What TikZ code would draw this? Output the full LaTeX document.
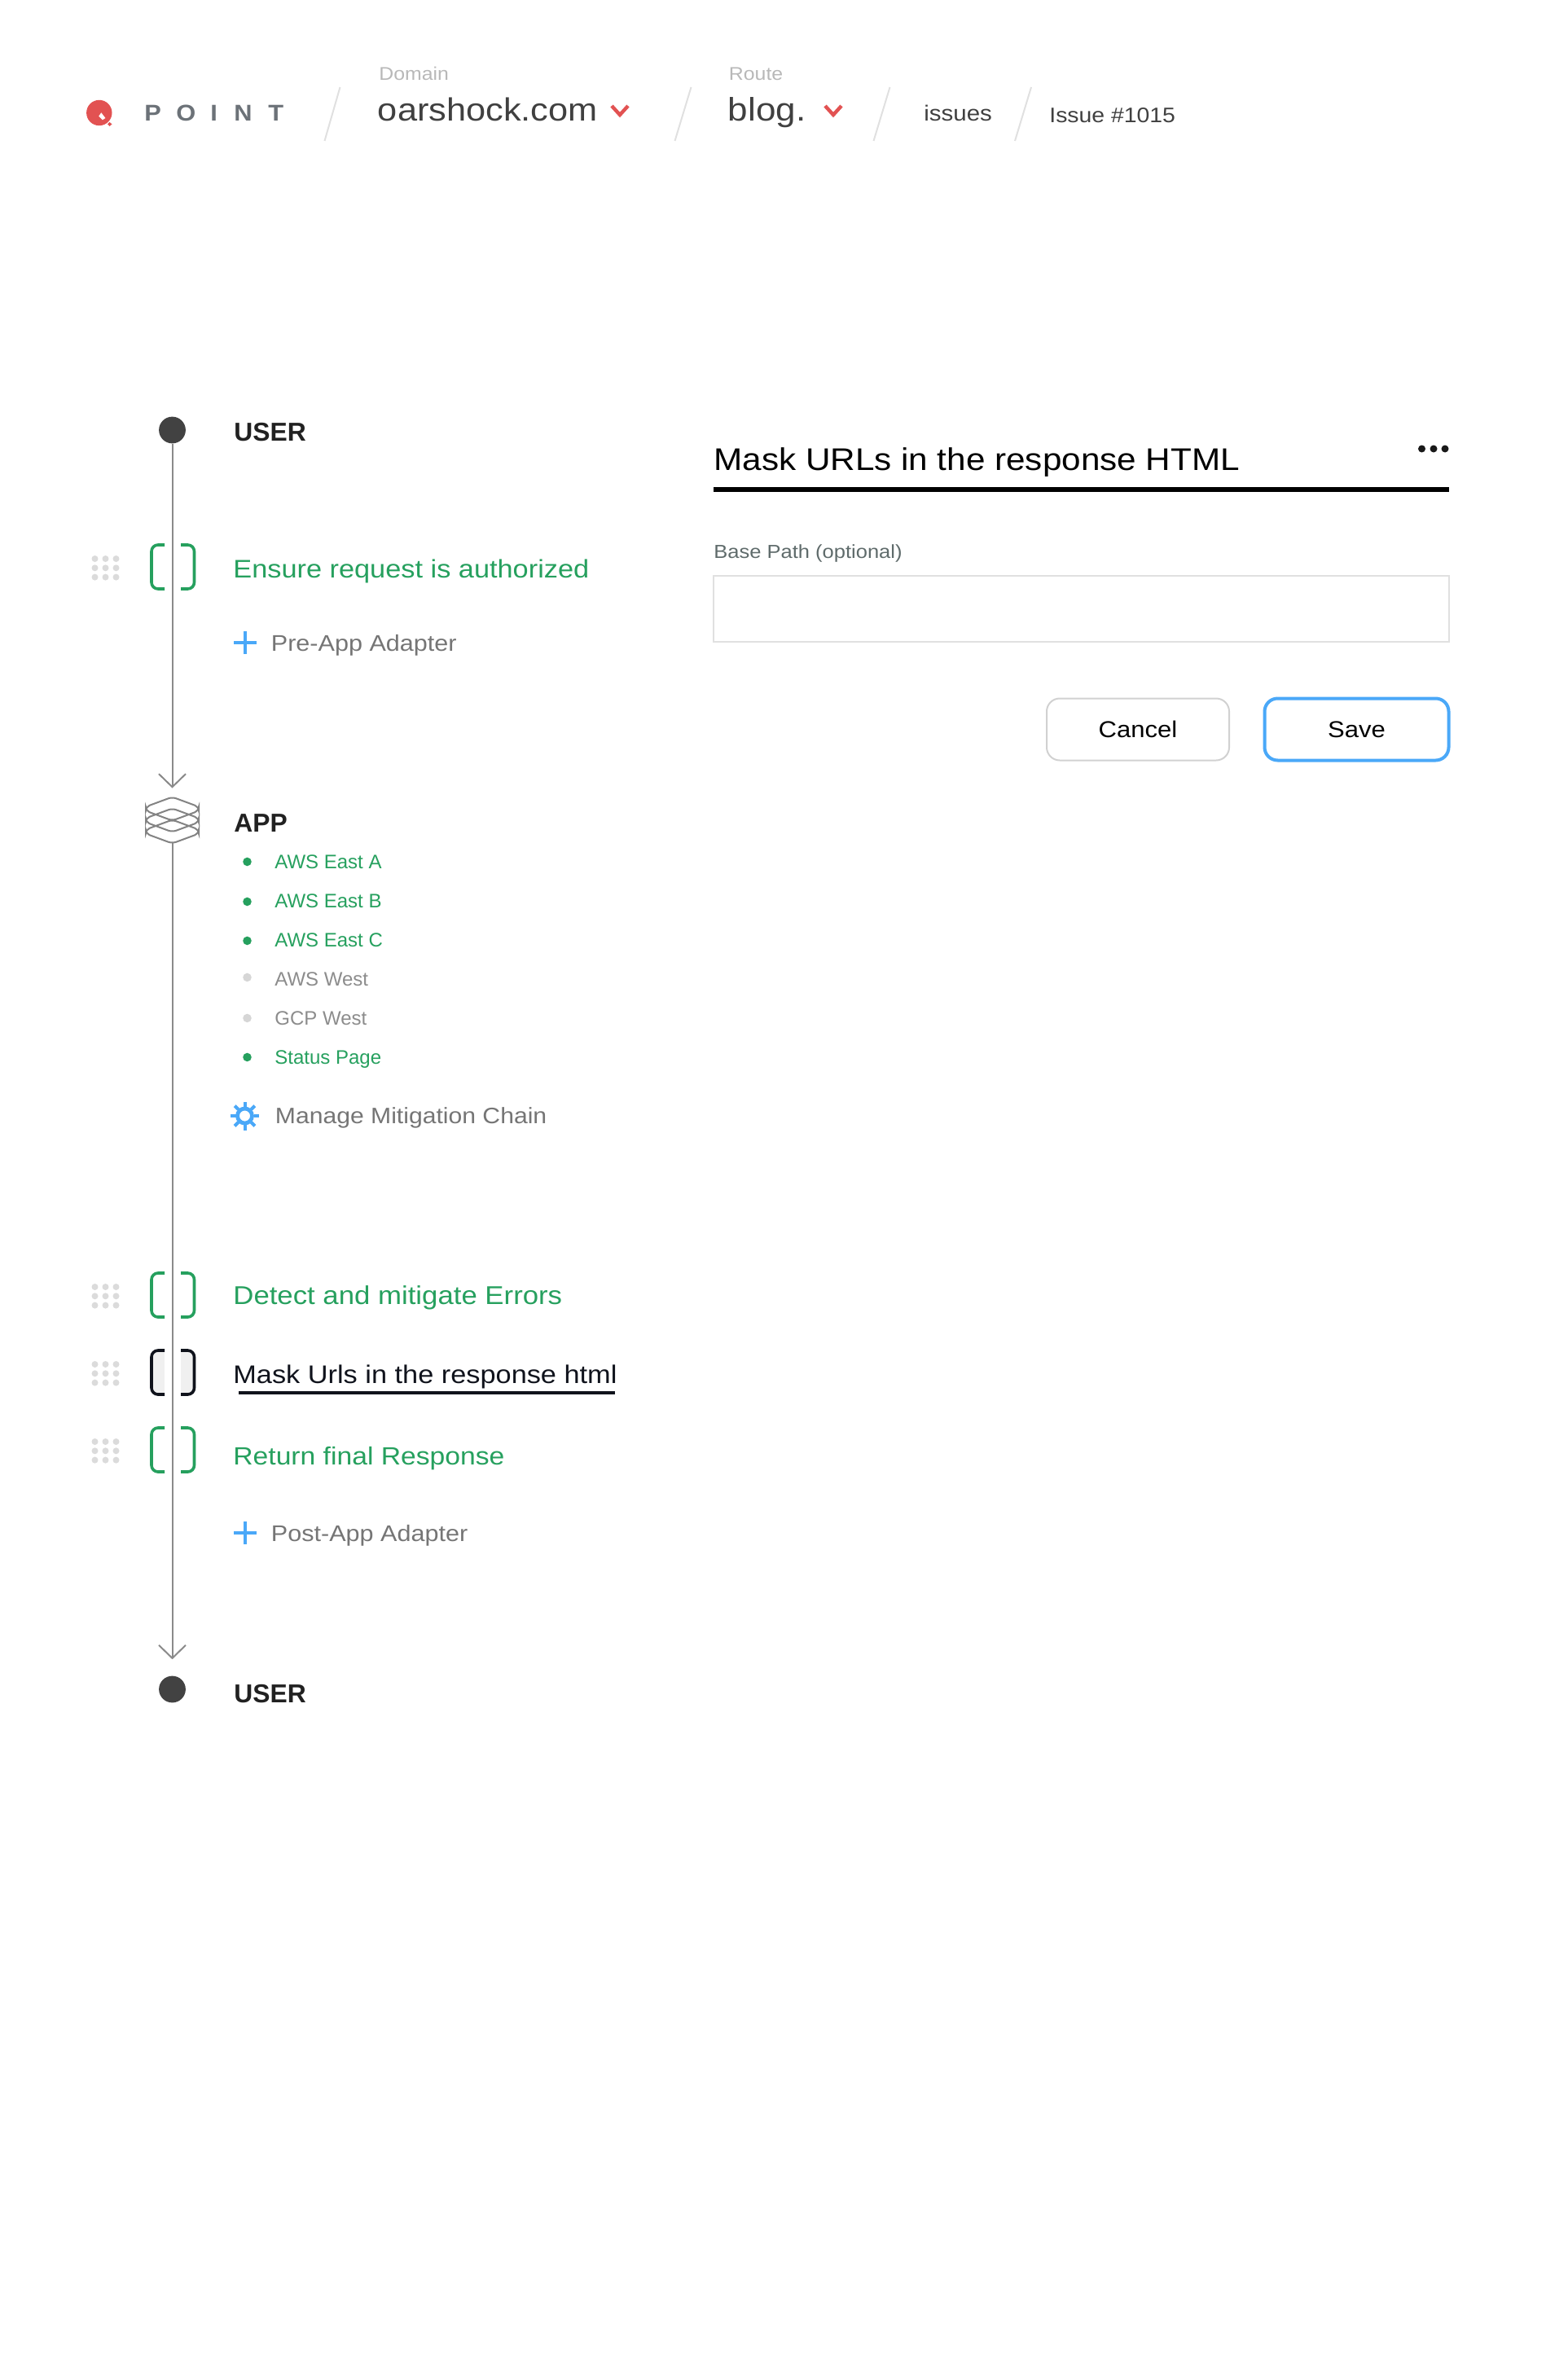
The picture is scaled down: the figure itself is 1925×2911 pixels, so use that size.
\documentclass[tikz,border=0pt]{standalone}
\usepackage{fontspec}
\setmainfont[FakeStretch=1.1]{Liberation Sans}
\newfontfamily\headfont{Liberation Sans}
\usetikzlibrary{arrows.meta}
\definecolor{stepgreen}{HTML}{26A05E}
\definecolor{linkblue}{HTML}{4AA8F8}
\definecolor{logored}{HTML}{E25252}
\definecolor{logogray}{HTML}{6C7278}
\definecolor{linegray}{HTML}{8A8A8A}
\definecolor{darkdot}{HTML}{424242}
\definecolor{softgray}{HTML}{757575}
\definecolor{labelgray}{HTML}{5F6B6B}
\definecolor{maskblack}{HTML}{10131C}
\newcommand{\fs}[1]{\fontsize{#1}{#1}\selectfont}
\tikzset{
  txt/.style={inner sep=0pt,anchor=base west},
  crumb/.style={line width=1pt,color=black!12},
  chev/.style={line width=2.2pt,color=logored},
  flow/.style={line width=1pt,color=linegray},
  steptext/.style={txt,font=\fs{15.6},text=stepgreen},
  region/.style={txt,font=\headfont\fs{12},text=stepgreen},
  regionoff/.style={txt,font=\headfont\fs{12},text=black!45},
  adapter/.style={txt,font=\fs{13.9},text=softgray},
  head/.style={txt,font=\headfont\bfseries\fs{15.9},text=black!87},
  plus/.style={line width=2pt,color=linkblue},
  button/.style={draw,rounded corners=8pt,minimum height=38pt,inner sep=0pt,font=\fs{14.1}}
}
\begin{document}
\begin{tikzpicture}[x=0.5pt,y=-0.5pt]
  \useasboundingbox (0,0) rectangle (1925,2911);
  % logo
  \fill[logored] (121.8,138.5) circle (15.7);
  \fill[white] (121.2,142.7) -- (124.3,138.3) -- (129.4,145) -- (125.8,147.3) -- cycle;
  \fill[logored] (134.5,150) -- (137.5,152.4) -- (134.5,155) -- (132,152.4) -- cycle;
  \foreach \ltr/\lx in {P/177,O/216,I/258,N/287,T/329}
    \node[txt,font=\bfseries\fs{14},text=logogray] (logo\ltr) at (\lx,149) {\ltr};
  % breadcrumb
  \foreach \xa/\xb in {417.5/398.5,848.5/828.5,1092.5/1072.5,1266/1246}
    \draw[crumb] (\xa,107) -- (\xb,173);
  \node[txt,font=\fs{11.3},text=black!28] (domainlabel) at (465,99) {Domain};
  \node[txt,font=\fs{19.7},text=black!75] (domain) at (463.5,149) {oarshock.com};
  \draw[chev] (751,130) -- (761,141) -- (771,130);
  \node[txt,font=\fs{11.3},text=black!28] (routelabel) at (894.5,99) {Route};
  \node[txt,font=\fs{20},text=black!75] (route) at (893.5,149) {blog.};
  \draw[chev] (1013,130) -- (1023,141) -- (1033,130);
  \node[txt,font=\fs{13.4},text=black!75] (issues) at (1134,149) {issues};
  \node[txt,font=\fs{12.9},text=black!75] (issue) at (1288,151) {Issue \#1015};

  % flow line
  \node[circle,fill=darkdot,inner sep=0pt,minimum size=16.4pt] (usertop) at (211.5,528) {};
  \node[circle,fill=darkdot,inner sep=0pt,minimum size=16.4pt] (userbot) at (211.5,2074) {};
  \node[inner sep=0pt,minimum width=33pt,minimum height=28pt] (appicon) at (211.5,1007) {};
  \draw[flow,-{Straight Barb[length=8pt,width=16.5pt]},shorten >=5.5pt] (usertop) -- (appicon);
  \draw[flow,-{Straight Barb[length=8pt,width=16.5pt]},shorten >=10pt] (appicon) -- (userbot);
  \foreach \cy in {993,1007,1021}
    \draw[line width=1pt,color=softgray!90,rounded corners=2.5pt]
      (211.5,\cy-14.5) -- (244,\cy-2.5) -- (244,\cy+2.5) -- (211.5,\cy+14.5)
      -- (179,\cy+2.5) -- (179,\cy-2.5) -- cycle;
  \node[head] (usera) at (287,541) {USER};
  \node[head] (userb) at (287,2090) {USER};
  \node[head] (app) at (287,1021) {APP};

  % steps: bracket and drag handle
  \fill[black!6] (188,1660) rectangle (202,1710);
  \fill[black!6] (222,1660) rectangle (236.5,1710);
  \foreach \cy/\col in {696/stepgreen,1590/stepgreen,1685/maskblack,1780/stepgreen} {
    \foreach \dx in {116.5,129.5,142.5}
      \foreach \dy in {-10,1.3,12.6}
        \fill[black!14] (\dx,\cy+\dy) circle (4);
    \draw[line width=1.8pt,color=\col,rounded corners=4pt]
      (202,\cy-27) -- (186,\cy-27) -- (186,\cy+27) -- (202,\cy+27);
    \draw[line width=1.8pt,color=\col,rounded corners=4pt]
      (222,\cy-27) -- (238.5,\cy-27) -- (238.5,\cy+27) -- (222,\cy+27);
  }

  \node[steptext] (ensure) at (286,709.5) {Ensure request is authorized};
  \node[steptext,font=\fs{15.8}] (detect) at (286,1601.5) {Detect and mitigate Errors};
  \node[steptext,text=maskblack] (mask) at (286,1698) {Mask Urls in the response html};
  \node[steptext,font=\fs{15.3}] (return) at (286,1798) {Return final Response};
  \draw[line width=2pt,color=maskblack] (293,1710) -- (755,1710);

  % adapters
  \draw[plus] (287,789) -- (315,789) (301,775) -- (301,803);
  \draw[plus] (287,1882) -- (315,1882) (301,1868) -- (301,1896);
  \node[adapter] (preapp) at (332.5,799) {Pre-App Adapter};
  \node[adapter] (postapp) at (332.5,1892) {Post-App Adapter};

  % regions
  \foreach \name/\dy/\by/\txtstyle/\dotcol/\lbl in {
      eastA/1058/1066/region/stepgreen/AWS East A,
      eastB/1107/1114/region/stepgreen/AWS East B,
      eastC/1155/1162/region/stepgreen/AWS East C,
      west/1200/1210/regionoff/black!16/AWS West,
      gcp/1250/1258/regionoff/black!16/GCP West,
      status/1298/1306/region/stepgreen/Status Page} {
    \fill[\dotcol] (303.5,\dy) circle (5.3);
    \node[\txtstyle] (\name) at (337,\by) {\lbl};
  }

  % gear
  \draw[line width=2.4pt,color=linkblue] (300.5,1370) circle (9);
  \foreach \a in {0,45,...,315}
    \draw[line width=2pt,color=linkblue] (300.5,1370) ++(\a:11) -- ++(\a:6.5);
  \node[adapter,font=\fs{13.7}] (manage) at (337.5,1379) {Manage Mitigation Chain};

  % panel
  \node[txt,font=\fs{19.2},text=black] (title) at (876,577) {Mask URLs in the response HTML};
  \foreach \dx in {1745.5,1760,1774}
    \fill[black!90] (\dx,551) circle (4.5);
  \draw[line width=3pt] (876,601) -- (1779,601);
  \node[txt,font=\fs{11.6},text=labelgray] (pathlabel) at (876,685) {Base Path (optional)};
  \node[draw=black!12,line width=1pt,inner sep=0pt,minimum width=451.5pt,minimum height=40.5pt] (pathinput) at (1327.5,747.5) {};
  \node[button,draw=black!18,line width=1pt,minimum width=112pt] (cancel) at (1397,895.5) {Cancel};
  \node[button,draw=linkblue,line width=2pt,minimum width=113pt] (save) at (1665.5,895.5) {Save};
\end{tikzpicture}
\end{document}
